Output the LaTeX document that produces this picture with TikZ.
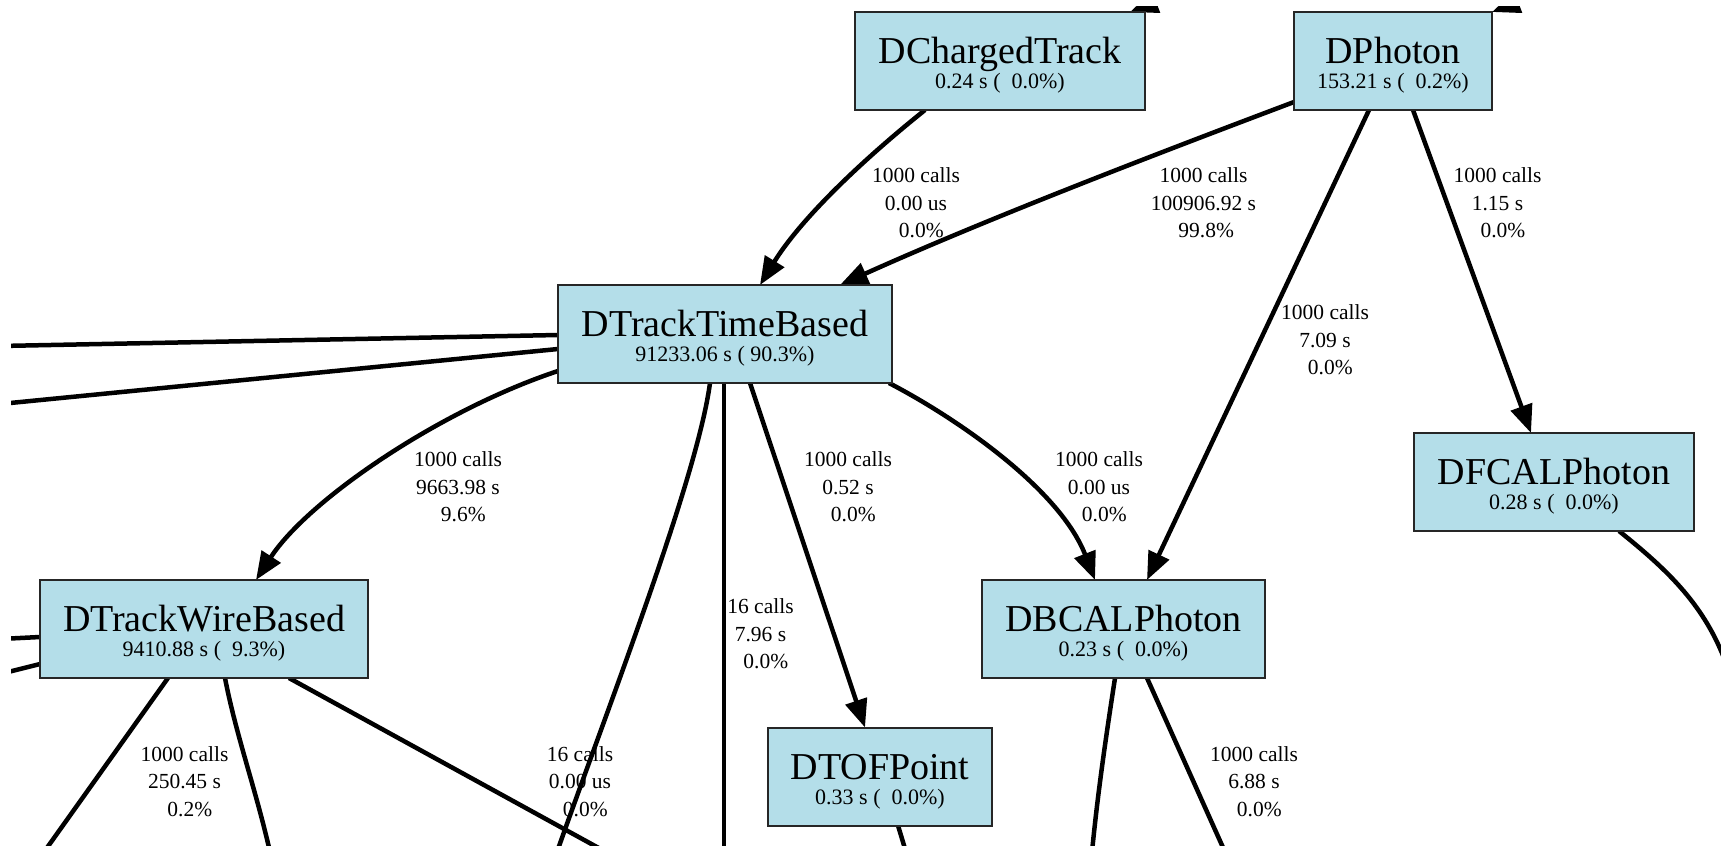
\documentclass[tikz,border=0pt]{standalone}
\usepackage{fontspec}
\setmainfont{Liberation Serif}
\usetikzlibrary{arrows.meta,calc}
\definecolor{boxfill}{RGB}{180,222,233}
\pgfdeclarelayer{labels}
\pgfdeclarelayer{edges}
\pgfsetlayers{labels,edges,main}
% visible window of the call graph
\newcommand\frameclip{\clip (11,6) rectangle (1721,845);}
% box with a function name and its own time
\newcommand\callnode[6]{%
  \node[box, minimum width=#4pt] (#1) at (#2,#3) {};
  \node[fname] (#1-name) at (#2,#3+2.5) {#5};
  \node[ftime] (#1-time) at (#2,#3+27.5) {#6};
}
\begin{document}
\begin{tikzpicture}[x=1pt,y=-1pt,
  box/.style={draw=black!85, line width=2pt, fill=boxfill, rectangle,
    inner sep=0pt, outer sep=0pt, minimum height=98pt},
  fname/.style={anchor=base, inner sep=0pt, font=\fontsize{38}{40}\selectfont},
  ftime/.style={anchor=base, inner sep=0pt, font=\fontsize{22}{24}\selectfont},
  lbl/.style={align=center, inner sep=0pt, font=\fontsize{21.5}{27.4}\selectfont},
  edge/.style={line width=4.5pt},
  arr/.style={edge, -{Triangle[length=28pt,width=22pt]}},
]
\useasboundingbox (0,0) rectangle (1721,849);

% functions
\callnode{dct}{1000}{61}{290}{DChargedTrack}{0.24 s (\hspace{0.5em}0.0\%)}
\callnode{dph}{1393}{61}{198}{DPhoton}{153.21 s (\hspace{0.5em}0.2\%)}
\callnode{dttb}{725}{334}{334}{DTrackTimeBased}{91233.06 s (\hspace{0.25em}90.3\%)}
\callnode{dtwb}{204}{629}{328}{DTrackWireBased}{9410.88 s (\hspace{0.5em}9.3\%)}
\callnode{dbcal}{1123.5}{629}{283}{DBCALPhoton}{0.23 s (\hspace{0.5em}0.0\%)}
\callnode{dfcal}{1554}{482}{280}{DFCALPhoton}{0.28 s (\hspace{0.5em}0.0\%)}
\callnode{dtof}{880}{776.5}{224}{DTOFPoint}{0.33 s (\hspace{0.5em}0.0\%)}

% free ends of edges leaving the window
\coordinate (w1) at (0,346);
\coordinate (w2) at (0,404);
\coordinate (w3) at (0,639);
\coordinate (w4) at (0,674);
\coordinate (b1) at (44,852);
\coordinate (b2) at (270,852);
\coordinate (b3) at (606,852);
\coordinate (b4) at (557,852);
\coordinate (b5) at (724,852);
\coordinate (b6) at (906,852);
\coordinate (b7) at (1092,852);
\coordinate (b8) at (1225,852);
\coordinate (r1) at (1724,658);
\coordinate (t1) at (1270,-41);
\coordinate (t2) at (1632,-41);

% edge labels
\begin{pgfonlayer}{labels}
\node[lbl] (l1) at (916,203) {1000 calls\\0.00 us\\\hspace*{0.5em}0.0\%};
\node[lbl] (l2) at (1203.5,203) {1000 calls\\100906.92 s\\\hspace*{0.25em}99.8\%};
\node[lbl] (l3) at (1497.5,203) {1000 calls\\1.15 s\\\hspace*{0.5em}0.0\%};
\node[lbl] (l4) at (1325,340) {1000 calls\\7.09 s\\\hspace*{0.5em}0.0\%};
\node[lbl] (l5) at (458,487) {1000 calls\\9663.98 s\\\hspace*{0.5em}9.6\%};
\node[lbl] (l6) at (848,487) {1000 calls\\0.52 s\\\hspace*{0.5em}0.0\%};
\node[lbl] (l7) at (1099,487) {1000 calls\\0.00 us\\\hspace*{0.5em}0.0\%};
\node[lbl] (l8) at (760.5,634) {16 calls\\7.96 s\\\hspace*{0.5em}0.0\%};
\node[lbl] (l9) at (184.5,781.5) {1000 calls\\250.45 s\\\hspace*{0.5em}0.2\%};
\node[lbl] (l10) at (580,781.5) {16 calls\\0.00 us\\\hspace*{0.5em}0.0\%};
\node[lbl] (l11) at (1254,781.5) {1000 calls\\6.88 s\\\hspace*{0.5em}0.0\%};
\end{pgfonlayer}

% call edges
\begin{pgfonlayer}{edges}
\begin{scope}
\frameclip
\draw[arr] ([xshift=70pt]dct.south west) .. controls (860,162) and (800,220) .. ([xshift=202pt]dttb.north west);
\draw[arr] ([yshift=8pt]dph.south west) .. controls (1140,160) and (980,222) .. ([xshift=282pt]dttb.north west);
\draw[arr] ([xshift=75pt]dph.south west) -- ([xshift=165pt]dbcal.north west);
\draw[arr] ([xshift=119pt]dph.south west) -- ([xshift=117pt]dfcal.north west);
\draw[arr] ([yshift=-37pt]dttb.west) .. controls (440,410) and (308,500) .. ([xshift=216pt]dtwb.north west);
\draw[arr] ([xshift=192pt]dttb.south west) -- ([xshift=97pt]dtof.north west);
\draw[arr] ([xshift=-3pt]dttb.south east) .. controls (960,420) and (1060,490) .. ([xshift=113pt]dbcal.north west);
\draw[arr] (t1) -- ([xshift=-15pt]dct.north east);
\draw[arr] (t2) -- (dph.north east);
\draw[edge] ([yshift=-1pt]dttb.west) -- (w1);
\draw[edge] ([yshift=-15pt]dttb.west) -- (w2);
\draw[edge] ([xshift=-1pt]dttb.south) -- (b5);
\draw[edge] ([xshift=-15pt]dttb.south) .. controls (697,480) and (605,715) .. (b4);
\draw[edge] ([yshift=-8pt]dtwb.west) -- (w3);
\draw[edge] ([yshift=-35pt]dtwb.west) -- (w4);
\draw[edge] ([xshift=128pt]dtwb.south west) -- (b1);
\draw[edge] ([xshift=185pt]dtwb.south west) .. controls (236,735) and (256,790) .. (b2);
\draw[edge] ([xshift=249pt]dtwb.south west) -- (b3);
\draw[edge] ([xshift=133pt]dbcal.south west) .. controls (1107,730) and (1098,790) .. (b7);
\draw[edge] ([xshift=165pt]dbcal.south west) -- (b8);
\draw[edge] ([xshift=130pt]dtof.south west) -- (b6);
\draw[edge] ([xshift=205pt]dfcal.south west) .. controls (1665,568) and (1702,602) .. (r1);
\end{scope}
\end{pgfonlayer}
\end{tikzpicture}
\end{document}
